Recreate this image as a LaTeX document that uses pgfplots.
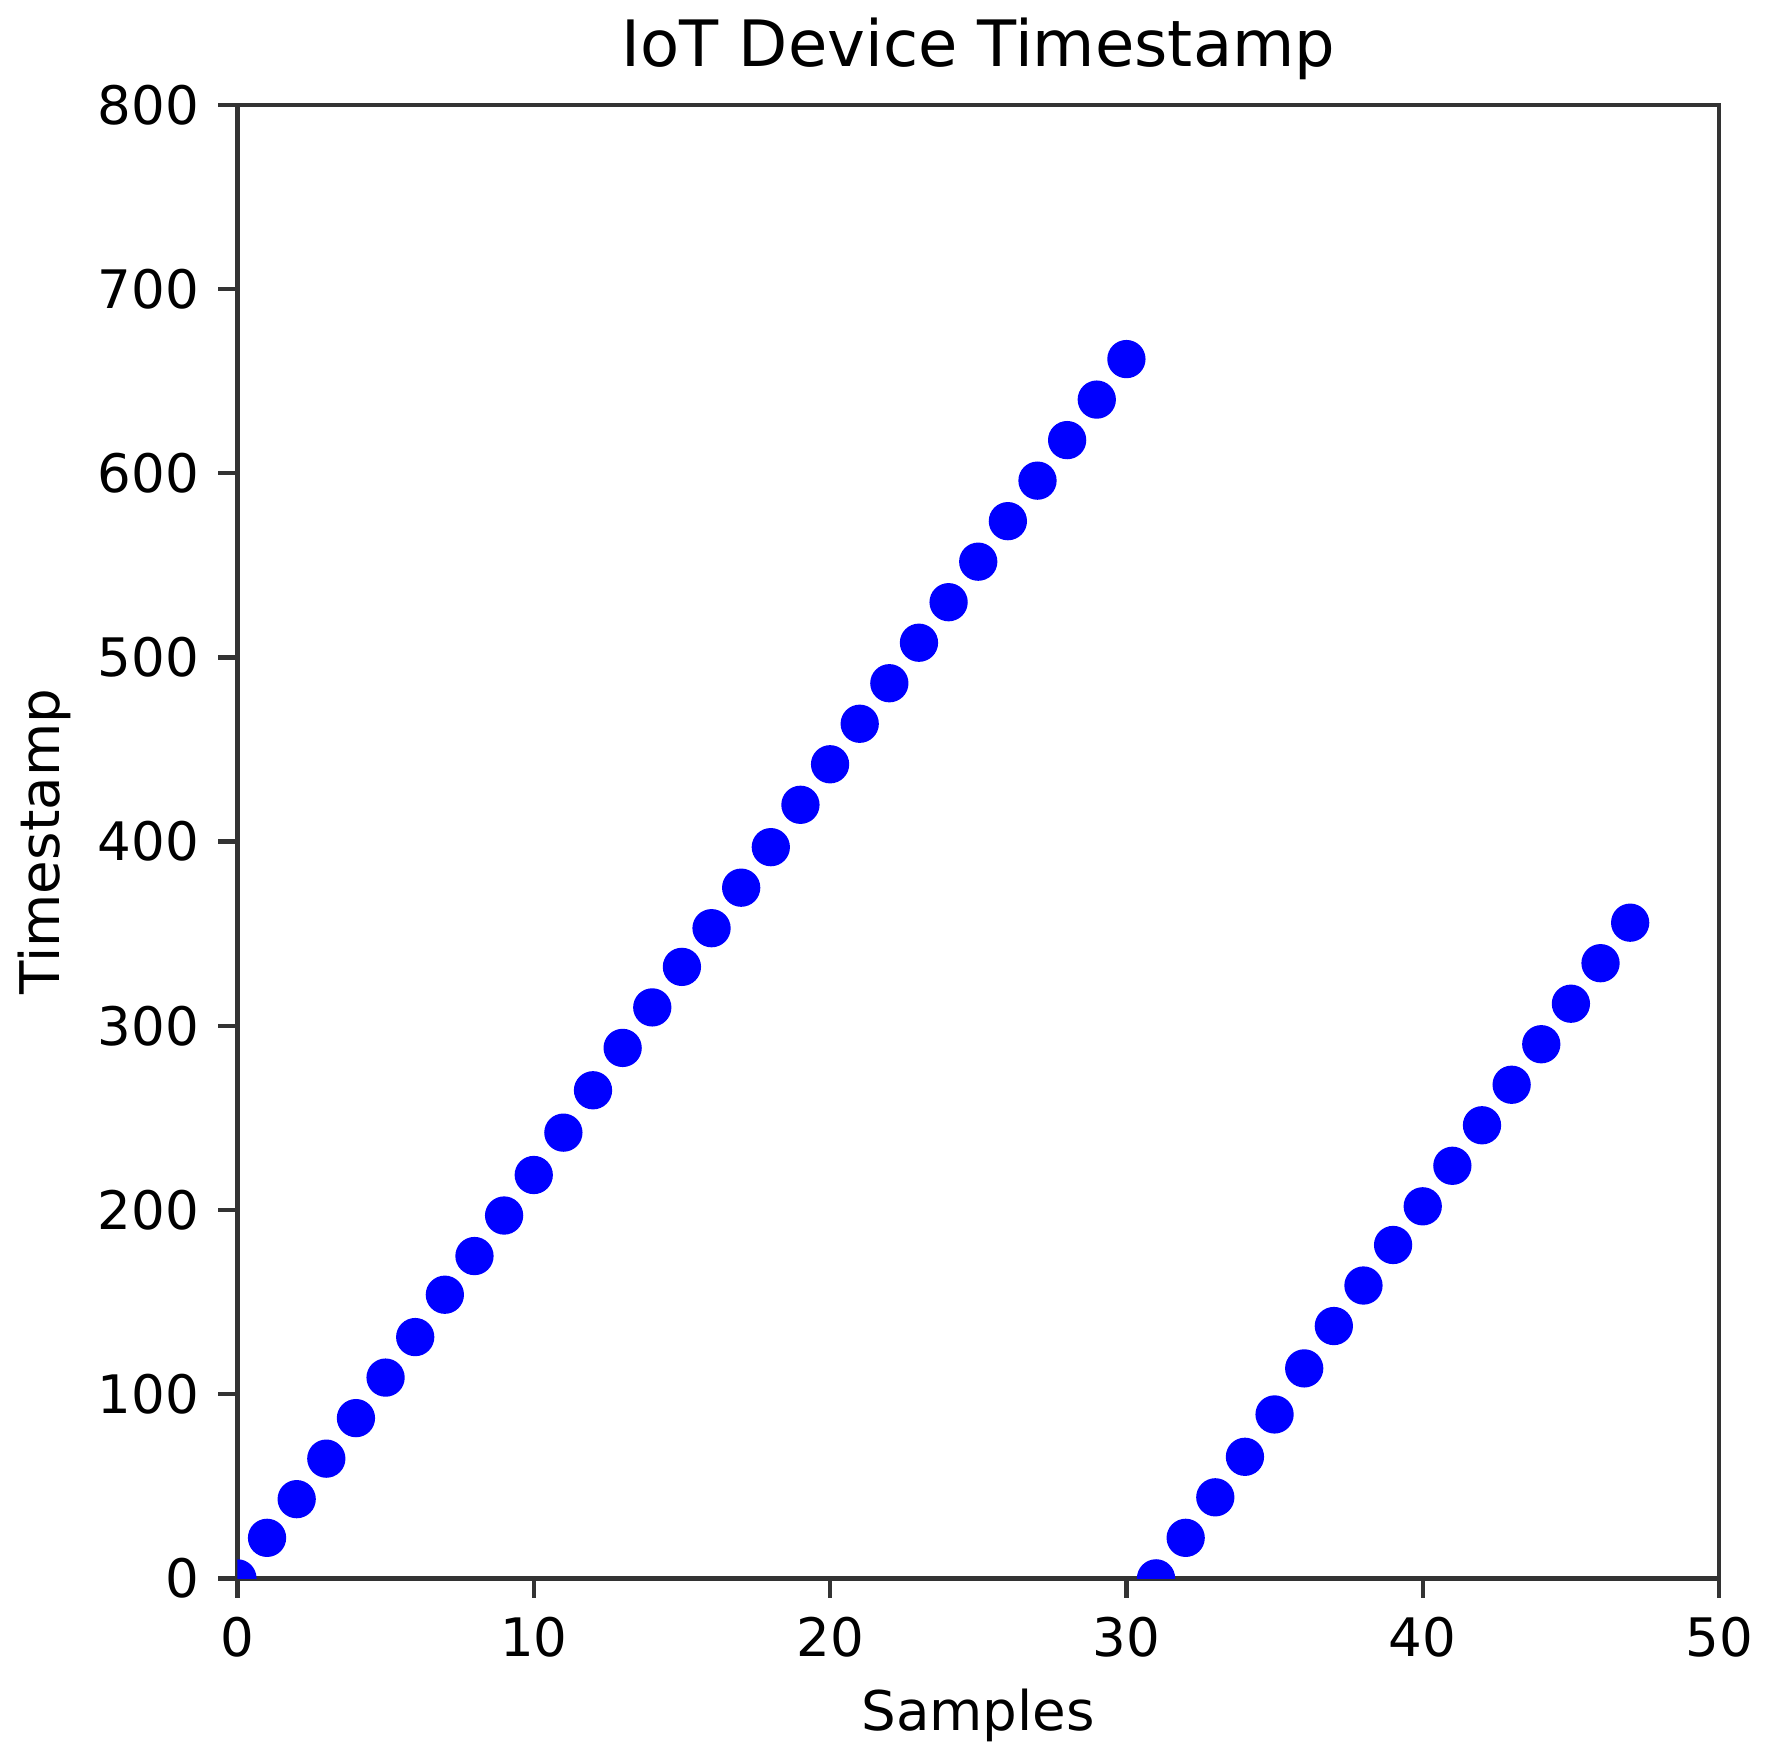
\documentclass[border=0pt]{standalone}
\usepackage{pgfplots}
\pgfplotsset{compat=1.18}
\usepackage{fontspec}
\setmainfont{DejaVu Sans}
\begin{document}
\begin{tikzpicture}
\begin{axis}[
  scale only axis,
  width=271pt, height=269.5pt,
  xmin=0, xmax=50, ymin=0, ymax=800,
  xtick={0,10,20,30,40,50},
  ytick={0,100,200,300,400,500,600,700,800},
  tick align=outside,
  xtick pos=bottom, ytick pos=left,
  major tick length=3.5pt,
  every tick/.style={black!80, line width=0.8pt},
  axis line style={black!80, line width=0.8pt},
  /pgf/number format/assume math mode=true,
  ticklabel style={font=\fontsize{9.7}{12}\selectfont},
  label style={font=\fontsize{10}{12}\selectfont},
  title style={font=\fontsize{11.7}{14}\selectfont, yshift=-5pt},
  title={IoT Device Timestamp},
  xlabel={Samples},
  ylabel={Timestamp},
  ylabel shift=-2pt,
  xlabel shift=-1pt,
  clip marker paths=true,
]
\addplot[only marks, mark=*, mark size=3.3pt, color=blue, mark options={draw=blue, fill=blue}] coordinates {
(0,0) (1,22) (2,43) (3,65) (4,87) (5,109) (6,131) (7,154) (8,175) (9,197)
(10,219) (11,242) (12,265) (13,288) (14,310) (15,332) (16,353) (17,375) (18,397) (19,420)
(20,442) (21,464) (22,486) (23,508) (24,530) (25,552) (26,574) (27,596) (28,618) (29,640)
(30,662)
(31,0) (32,22) (33,44) (34,66) (35,89) (36,114) (37,137) (38,159) (39,181) (40,202)
(41,224) (42,246) (43,268) (44,290) (45,312) (46,334) (47,356)
};
\end{axis}
\end{tikzpicture}
\end{document}
